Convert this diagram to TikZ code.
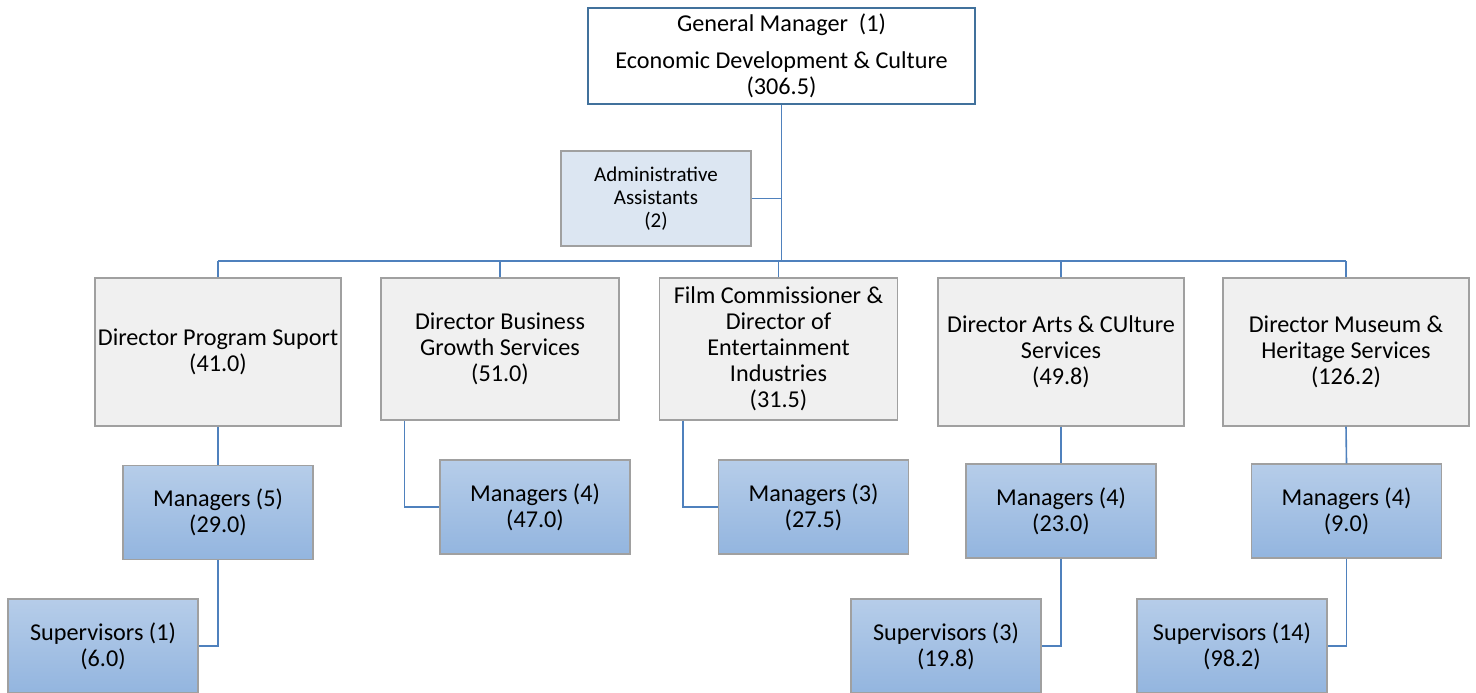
\documentclass[tikz,border=0pt]{standalone}
\usepackage{fontspec}
\setmainfont{Carlito}
\usetikzlibrary{positioning}

\definecolor{linkblue}{HTML}{4F81BD}
\definecolor{headblue}{HTML}{41719C}
\definecolor{boxgray}{HTML}{F0F0F0}
\definecolor{edgegray}{HTML}{A0A0A0}
\definecolor{admfill}{HTML}{DCE6F2}
\definecolor{mgrtop}{HTML}{B6CDE9}
\definecolor{mgrbot}{HTML}{93B5DF}

\begin{document}
\begin{tikzpicture}[x=0.5pt,y=-0.5pt,
    box/.style={draw=edgegray, line width=0.7pt, inner sep=0pt, align=center,
      font=\fontsize{12.1}{13}\selectfont},
    headbox/.style={box, draw=headblue, line width=1pt, fill=white,
      minimum width=193.5pt, minimum height=48pt},
    admbox/.style={box, fill=admfill, minimum width=95pt, minimum height=47.5pt,
      font=\fontsize{10.5}{11.5}\selectfont},
    dirbox/.style={box, fill=boxgray, minimum width=123pt, minimum height=74pt},
    dirbox2/.style={box, fill=boxgray, minimum width=119pt, minimum height=71pt},
    mgrbox/.style={box, top color=mgrtop, bottom color=mgrbot,
      minimum width=95pt, minimum height=47pt},
    link/.style={draw=linkblue, line width=0.8pt}]
  \clip (0,0) rectangle (1476,692);

  % general manager and assistants
  \node[headbox] (gm) at (781.5,56)
    {General Manager\ \ (1)\\[5.5pt]Economic Development \& Culture\\(306.5)};
  \node[admbox] (adm) at (656,198.5) {Administrative\\Assistants\\(2)};

  % directors
  \node[dirbox]  (dps)  at (218,352)    {Director Program Suport\\(41.0)};
  \node[dirbox2] (dbgs) at (500,349)    {Director Business\\Growth Services\\(51.0)};
  \node[dirbox2] (dfilm) at (778.5,349) {Film Commissioner \&\\Director of\\Entertainment\\Industries\\(31.5)};
  \node[dirbox]  (darts) at (1061,352)  {Director Arts \& CUlture\\Services\\(49.8)};
  \node[dirbox]  (dmus) at (1346,352)   {Director Museum \&\\Heritage Services\\(126.2)};

  % managers
  \node[mgrbox] (mps)   at (218,512.5)  {Managers (5)\\(29.0)};
  \node[mgrbox] (mbgs)  at (535,507)    {Managers (4)\\(47.0)};
  \node[mgrbox] (mfilm) at (813.5,507)  {Managers (3)\\(27.5)};
  \node[mgrbox] (marts) at (1061,511)   {Managers (4)\\(23.0)};
  \node[mgrbox] (mmus)  at (1346.5,511) {Managers (4)\\(9.0)};

  % supervisors
  \node[mgrbox] (sps)   at (103,646)  {Supervisors (1)\\(6.0)};
  \node[mgrbox] (sarts) at (946,646)  {Supervisors (3)\\(19.8)};
  \node[mgrbox] (smus)  at (1232,646) {Supervisors (14)\\(98.2)};

  % connectors
  \coordinate (bus) at (781.5,261);
  \draw[link] (gm.south) -- (bus);
  \draw[link] (adm.east) -- (adm.east -| gm.south);
  \draw[link] (dps.north |- bus) -- (dmus.north |- bus);
  \foreach \d in {dps,dbgs,dfilm,darts,dmus}
    \draw[link] (\d.north |- bus) -- (\d.north);

  \draw[link] (dps.south) -- (mps.north);
  \draw[link] (darts.south) -- (marts.north);
  \draw[link] (dmus.south) -- (mmus.north);
  \draw[link] ([xshift=12pt]dbgs.south west) |- (mbgs.west);
  \draw[link] ([xshift=12pt]dfilm.south west) |- (mfilm.west);

  \draw[link] (mps.south) |- (sps.east);
  \draw[link] (marts.south) |- (sarts.east);
  \draw[link] (mmus.south) |- (smus.east);
\end{tikzpicture}
\end{document}
